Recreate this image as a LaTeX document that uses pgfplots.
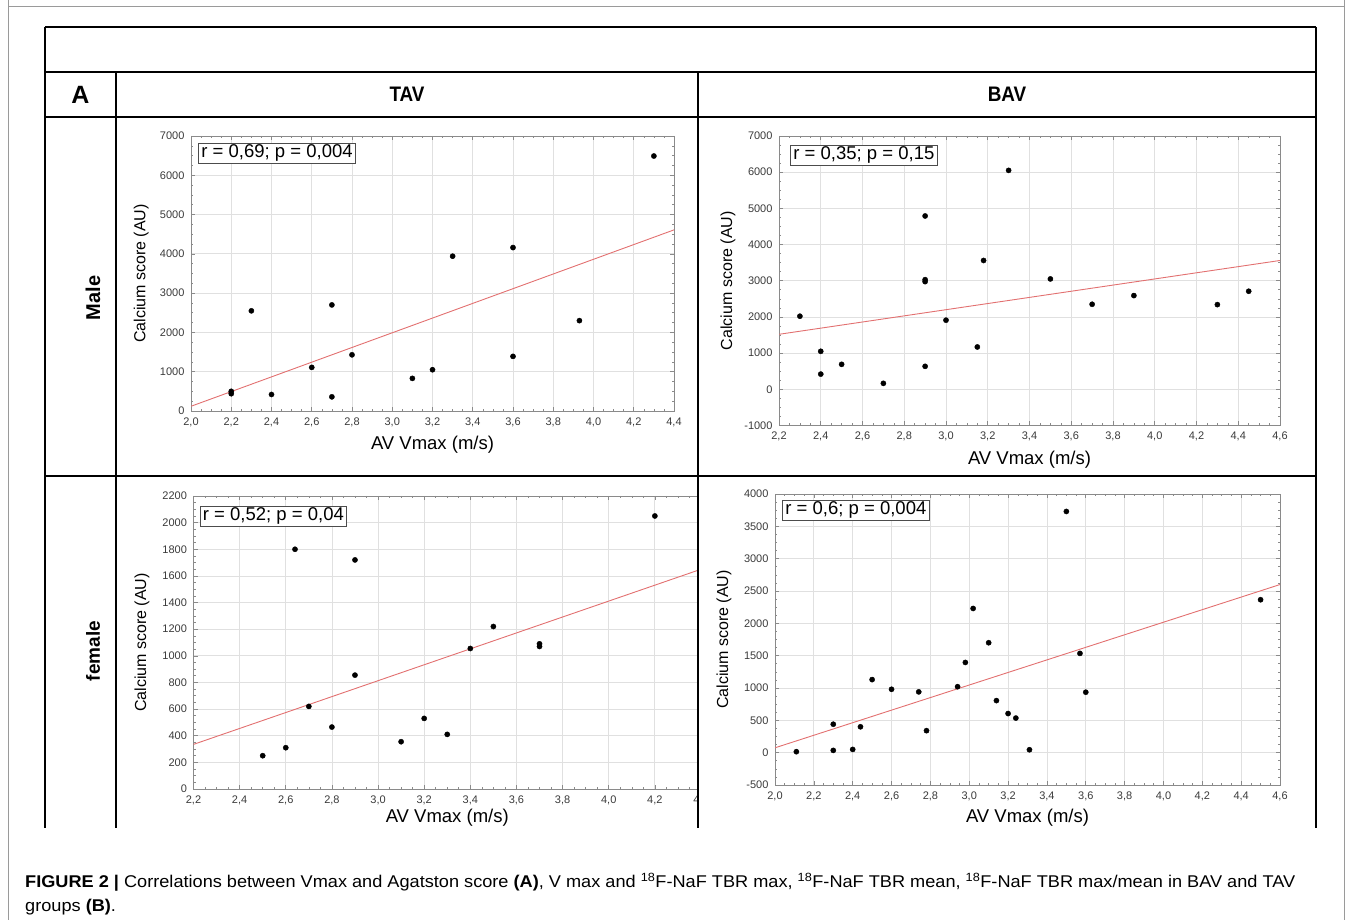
\documentclass[border=0pt]{standalone}
\usepackage{fontspec}
\setmainfont{Liberation Sans}
\usepackage{pgfplots}
\pgfplotsset{compat=1.18}
\usepackage{graphicx}

\definecolor{gridc}{HTML}{E0E0E0}
\definecolor{axc}{HTML}{8A8A8A}
\definecolor{regc}{HTML}{E27070}
\definecolor{tickc}{HTML}{3A3A3A}
\definecolor{framec}{HTML}{9A9A9A}

\newsavebox\capA
\newsavebox\capB
\newdimen\capw

\tikzset{
  rbox/.style={draw=black!70, line width=0.9pt, fill=white, inner xsep=3pt, inner ysep=1.5pt, font=\fontsize{18.5}{22}\selectfont, anchor=north west},
}
\pgfplotsset{
  statstyle/.style={
    scale only axis,
    anchor=south west,
    axis line style={axc, line width=0.8pt},
    grid=major,
    major grid style={gridc, line width=0.8pt},
    tick align=inside,
    tick style={axc, line width=0.6pt},
    major tick length=4pt,
    minor tick length=2pt,
    minor x tick num=3, minor y tick num=3,
    ticklabel style={font=\fontsize{11}{13}\selectfont, text=tickc},
    xticklabel style={yshift=-3pt},
    yticklabel style={xshift=-3pt},
    xlabel={AV Vmax (m/s)},
    ylabel={Calcium score (AU)},
    xlabel style={font=\fontsize{18.5}{22}\selectfont, anchor=center},
    ylabel style={font=\fontsize{16}{19}\selectfont, anchor=center},
    clip=true,
  },
  dots/.style={only marks, mark=*, mark size=2.6pt, mark options={fill=black, draw=black}},
  reg/.style={regc, line width=0.9pt, no marks},
}

\begin{document}%
\sbox\capA{\fontsize{17}{20}\selectfont\textbf{FIGURE 2 |} Correlations between Vmax and Agatston score \textbf{(A)}, V max and \textsuperscript{18}F-NaF TBR max, \textsuperscript{18}F-NaF TBR mean, \textsuperscript{18}F-NaF TBR max/mean in BAV and TAV}%
\sbox\capB{\fontsize{17}{20}\selectfont groups \textbf{(B)}.}%
\capw=\wd\capA
\pgfmathsetmacro\sx{1270/\capw}%
\begin{tikzpicture}[x=1pt,y=1pt]
\path[use as bounding box] (0,0) rectangle (1354,920);

% outer frame
\draw[framec, line width=1pt] (8,920) -- (8,913) -- (1344,913) -- (1344,920);
\draw[framec, line width=1pt] (8,913) -- (8,0);
\draw[framec, line width=1pt] (1344,913) -- (1344,0);

% ---------- TAV male ----------
\begin{axis}[statstyle, at={(191pt,509pt)}, width=483pt, height=275pt,
  xmin=2.0, xmax=4.4, ymin=0, ymax=7000,
  xtick={2.0,2.2,2.4,2.6,2.8,3.0,3.2,3.4,3.6,3.8,4.0,4.2,4.4},
  xticklabels={{2,0},{2,2},{2,4},{2,6},{2,8},{3,0},{3,2},{3,4},{3,6},{3,8},{4,0},{4,2},{4,4}},
  ytick={0,1000,2000,3000,4000,5000,6000,7000},
  yticklabels={0,1000,2000,3000,4000,5000,6000,7000},
  xlabel style={at={(axis description cs:0.5,-0.124)}},
  ylabel style={at={(axis description cs:-0.103,0.5)}},
]
\addplot[reg] coordinates {(2.0,120) (4.4,4610)};
\addplot[dots] coordinates {(2.2,500) (2.2,440) (2.3,2550) (2.4,420) (2.6,1110) (2.7,2700) (2.7,360) (2.8,1430) (3.1,830) (3.2,1050) (3.3,3940) (3.6,4160) (3.6,1390) (3.93,2300) (4.3,6490)};
\node[rbox] at (rel axis cs:0,1) [xshift=7pt, yshift=-7pt] {r = 0,69; p = 0,004};
\end{axis}

% ---------- BAV male ----------
\begin{axis}[statstyle, at={(779pt,494.5pt)}, width=501pt, height=289.5pt,
  xmin=2.2, xmax=4.6, ymin=-1000, ymax=7000,
  xtick={2.2,2.4,2.6,2.8,3.0,3.2,3.4,3.6,3.8,4.0,4.2,4.4,4.6},
  xticklabels={{2,2},{2,4},{2,6},{2,8},{3,0},{3,2},{3,4},{3,6},{3,8},{4,0},{4,2},{4,4},{4,6}},
  ytick={-1000,0,1000,2000,3000,4000,5000,6000,7000},
  yticklabels={-1000,0,1000,2000,3000,4000,5000,6000,7000},
  xlabel style={at={(axis description cs:0.5,-0.117)}},
  ylabel style={at={(axis description cs:-0.102,0.5)}},
]
\addplot[reg] coordinates {(2.2,1520) (4.6,3560)};
\addplot[dots] coordinates {(2.3,2020) (2.4,1050) (2.4,420) (2.5,690) (2.7,165) (2.9,4790) (2.9,3030) (2.9,2975) (2.9,635) (3.0,1910) (3.15,1170) (3.18,3560) (3.3,6050) (3.5,3050) (3.7,2350) (3.9,2590) (4.3,2340) (4.45,2710)};
\node[rbox] at (rel axis cs:0,1) [xshift=11pt, yshift=-9pt] {r = 0,35; p = 0,15};
\end{axis}

% ---------- TAV female ----------
\begin{scope}
\clip (117,92) rectangle (697,443);
\begin{axis}[statstyle, at={(193.5pt,131pt)}, width=507.5pt, height=293pt,
  xmin=2.2, xmax=4.4, ymin=0, ymax=2200,
  xtick={2.2,2.4,2.6,2.8,3.0,3.2,3.4,3.6,3.8,4.0,4.2,4.4},
  xticklabels={{2,2},{2,4},{2,6},{2,8},{3,0},{3,2},{3,4},{3,6},{3,8},{4,0},{4,2},{4,4}},
  ytick={0,200,400,600,800,1000,1200,1400,1600,1800,2000,2200},
  yticklabels={0,200,400,600,800,1000,1200,1400,1600,1800,2000,2200},
  xlabel style={at={(axis description cs:0.5,-0.099)}},
  ylabel style={at={(axis description cs:-0.1015,0.5)}},
]
\addplot[reg] coordinates {(2.2,335) (4.4,1650)};
\addplot[dots] coordinates {(2.5,250) (2.6,310) (2.64,1800) (2.7,620) (2.8,465) (2.9,1720) (2.9,855) (3.1,355) (3.2,530) (3.3,410) (3.4,1055) (3.5,1220) (3.7,1090) (3.7,1070) (4.2,2050)};
\node[rbox] at (rel axis cs:0,1) [xshift=6pt, yshift=-10pt] {r = 0,52; p = 0,04};
\end{axis}
\end{scope}

% ---------- BAV female ----------
\begin{axis}[statstyle, at={(775pt,135pt)}, width=505pt, height=291pt,
  xmin=2.0, xmax=4.6, ymin=-500, ymax=4000,
  xtick={2.0,2.2,2.4,2.6,2.8,3.0,3.2,3.4,3.6,3.8,4.0,4.2,4.4,4.6},
  xticklabels={{2,0},{2,2},{2,4},{2,6},{2,8},{3,0},{3,2},{3,4},{3,6},{3,8},{4,0},{4,2},{4,4},{4,6}},
  ytick={-500,0,500,1000,1500,2000,2500,3000,3500,4000},
  yticklabels={-500,0,500,1000,1500,2000,2500,3000,3500,4000},
  xlabel style={at={(axis description cs:0.5,-0.113)}},
  ylabel style={at={(axis description cs:-0.101,0.5)}},
]
\addplot[reg] coordinates {(2.0,75) (4.6,2600)};
\addplot[dots] coordinates {(2.11,15) (2.3,440) (2.3,35) (2.4,50) (2.44,400) (2.5,1130) (2.6,980) (2.74,940) (2.78,340) (2.94,1020) (2.98,1395) (3.02,2230) (3.1,1700) (3.14,805) (3.2,605) (3.24,535) (3.31,45) (3.5,3730) (3.57,1535) (3.6,935) (4.5,2365)};
\node[rbox] at (rel axis cs:0,1) [xshift=7pt, yshift=-6pt] {r = 0,6; p = 0,004};
\end{axis}

% ---------- table lines ----------
\begin{scope}[line width=2pt, black]
\draw (45,893) -- (1316,893);
\draw (45,848) -- (1316,848);
\draw (45,803) -- (1316,803);
\draw (45,444) -- (1316,444);
\draw (45,893) -- (45,92);
\draw (1316,893) -- (1316,92);
\draw (116,848) -- (116,92);
\draw (698,848) -- (698,92);
\end{scope}

% headers
\node[font=\bfseries\fontsize{25}{30}\selectfont] at (80.5,825.5) {A};
\node[font=\bfseries\fontsize{21}{25}\selectfont, xscale=0.9] at (407,825.5) {TAV};
\node[font=\bfseries\fontsize{21}{25}\selectfont, xscale=0.9] at (1007,825.5) {BAV};
\node[font=\bfseries\fontsize{20}{24}\selectfont, rotate=90] at (93,622) {Male};
\node[font=\bfseries\fontsize{19}{23}\selectfont, rotate=90] at (93,269) {female};

% caption
\node[anchor=base west, inner sep=0pt] at (25,32) {\scalebox{\sx}[1]{\usebox\capA}};
\node[anchor=base west, inner sep=0pt] at (25,8) {\scalebox{\sx}[1]{\usebox\capB}};
\end{tikzpicture}%
\end{document}
